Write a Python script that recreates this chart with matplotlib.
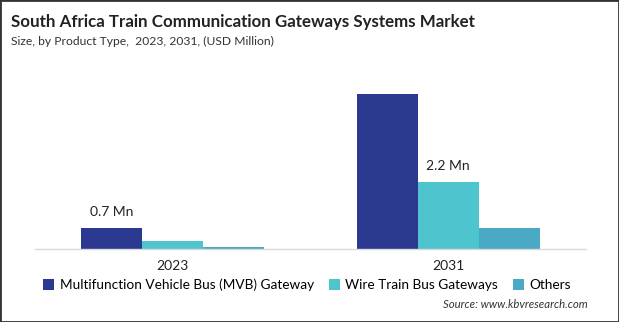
import numpy as np
import matplotlib.pyplot as plt
from matplotlib.patches import Rectangle

plt.rcParams["font.family"] = ["Lato", "DejaVu Sans"]

years = ["2023", "2031"]
segments = ["Multifunction Vehicle Bus (MVB) Gateway", "Wire Train Bus Gateways", "Others"]
mvb = [0.7, 5.2]
wire = [0.27, 2.25]
others = [0.07, 0.7]
colors = ["#2b3990", "#4ec4cf", "#4aaac5"]
labels = {(0, 0): "0.7 Mn", (1, 1): "2.2 Mn"}

W, H = 619, 322
fig = plt.figure(figsize=(W / 100, H / 100), dpi=100)
ax = fig.add_axes([35 / W, (H - 249) / H, 551 / W, 169 / H])

x = np.arange(len(years))
bw = 0.221
series = [mvb, wire, others]
for i, (vals, c, name) in enumerate(zip(series, colors, segments)):
    bars = ax.bar(x + (i - 1) * bw, vals, width=bw, color=c, label=name)
    for j, b in enumerate(bars):
        if (j, i) in labels:
            ax.annotate(labels[(j, i)], (b.get_x() + b.get_width() / 2, b.get_height()),
                        xytext=(0, 7.5), textcoords="offset points", ha="center",
                        va="bottom", fontsize=10, color="#222222")

ax.set_xlim(-0.5, 1.5)
ax.set_ylim(0, 5.67)
ax.set_yticks([])
ax.set_xticks(x)
ax.set_xticklabels(years, fontsize=10, color="#222222")
ax.tick_params(axis="x", length=0, pad=8)
for s in ["top", "right", "left"]:
    ax.spines[s].set_visible(False)
ax.spines["bottom"].set_color("#d9d9d9")
ax.spines["bottom"].set_linewidth(1)

fig.text(11 / W, 1 - 22 / H, "South Africa Train Communication Gateways Systems Market",
         fontsize=12.2, fontweight="bold", va="center", color="#222222")
fig.text(11 / W, 1 - 41 / H, "Size, by Product Type,  2023, 2031, (USD Million)",
         fontsize=8.7, va="center", color="#333333")

leg = fig.legend(loc="center", bbox_to_anchor=(307 / W, 1 - 285 / H), ncol=3, frameon=False,
                 fontsize=9.8, handlelength=0.8, handleheight=0.8, handletextpad=0.4,
                 columnspacing=1.1)

fig.text(588 / W, 1 - 304 / H, "Source: www.kbvresearch.com", fontsize=8.2, style="italic",
         ha="right", va="center", color="#333333")

fig.patches.append(Rectangle((0, 0), 1, 1, transform=fig.transFigure, fill=False,
                             edgecolor="#333333", linewidth=2))

fig.savefig("out.png", dpi=100)
